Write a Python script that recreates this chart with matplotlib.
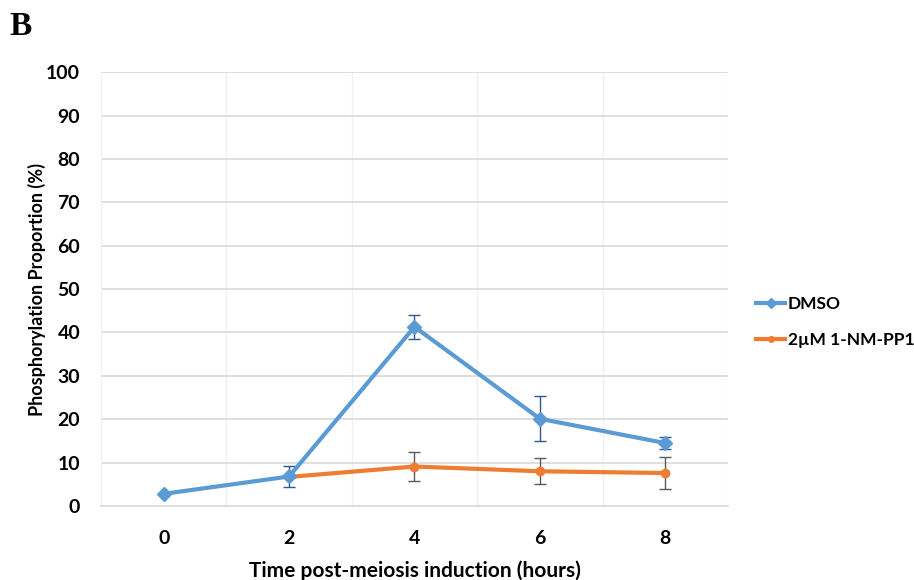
import matplotlib
matplotlib.use("Agg")
import matplotlib.pyplot as plt
from matplotlib.lines import Line2D

# data
hours = [0, 2, 4, 6, 8]
dmso = [2.8, 6.8, 41.3, 20.1, 14.5]
dmso_err = [0.0, 2.5, 2.7, 5.2, 1.4]
nm_hours = [2, 4, 6, 8]
nm_pp1 = [6.7, 9.1, 8.0, 7.6]
nm_err = [0.0, 3.3, 3.0, 3.7]
yticks = [0, 10, 20, 30, 40, 50, 60, 70, 80, 90, 100]

blue = '#5B9BD5'
orange = '#ED7D31'

plt.rcParams['font.family'] = ['Lato', 'DejaVu Sans']

fig = plt.figure(figsize=(9.14, 5.8), dpi=100)
ax = fig.add_axes([0.1105, 0.1276, 0.686, 0.748])

# orange below, blue on top
ax.errorbar(nm_hours, nm_pp1, yerr=nm_err, color=orange, lw=3, marker='o',
            ms=6, ecolor='#595959', elinewidth=1, capsize=4, capthick=1,
            zorder=3)
ax.errorbar(hours, dmso, yerr=dmso_err, color=blue, lw=3, marker='D',
            ms=7, ecolor='#2F5597', elinewidth=1, capsize=4, capthick=1,
            zorder=4)

ax.set_xlim(-1, 9)
ax.set_ylim(0, 100)
ax.set_xticks(hours)
ax.set_yticks(yticks)
ax.set_xticks(range(-1, 10), minor=True)
ax.tick_params(which='both', length=0)
ax.tick_params(axis='x', pad=17)
ax.tick_params(axis='y', pad=15)
for lab in ax.get_xticklabels() + ax.get_yticklabels():
    lab.set_fontsize(14)
    lab.set_fontweight('bold')

ax.grid(axis='y', color='#d9d9d9', lw=1.2, zorder=0)
ax.grid(axis='x', which='minor', color='#f0f0f0', lw=1, zorder=0)
ax.set_axisbelow(True)
for s in ['top', 'right']:
    ax.spines[s].set_visible(False)
ax.spines['left'].set_color('#f0f0f0')
ax.spines['bottom'].set_color('#d9d9d9')
ax.spines['bottom'].set_linewidth(1.2)

ax.set_xlabel('Time post-meiosis induction (hours)', fontsize=15,
              fontweight='bold', labelpad=10)
ax.set_ylabel('Phosphorylation Proportion (%)', fontsize=13,
              fontweight='bold', labelpad=0)

handles = [Line2D([], [], color=blue, lw=3, marker='D', ms=5),
           Line2D([], [], color=orange, lw=3, marker='o', ms=4)]
labels = ['DMSO', '2\u00b5M 1-NM-PP1']
fig.legend(handles, labels, loc='center left',
           bbox_to_anchor=(0.827, 0.445), frameon=False,
           prop={'weight': 'bold', 'size': 12.5}, handlelength=1.7,
           handletextpad=0.15, labelspacing=1.15, borderaxespad=0,
           borderpad=0)

fig.text(0.01, 0.955, 'B', fontsize=24, fontweight='bold',
         family='Liberation Serif', va='center')

fig.savefig('out.png', dpi=100)
